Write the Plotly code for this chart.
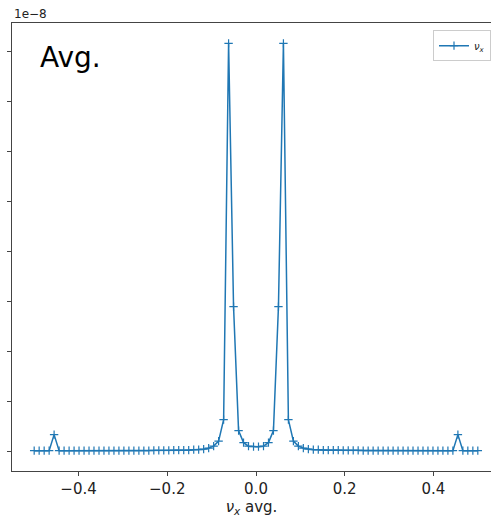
import plotly.graph_objects as go

# Frequency grid (avg. spectrum), and amplitude in units of 1e-8
nu_x = [
    -0.5, -0.4888, -0.4775, -0.4663, -0.4551, -0.4438, -0.4326, -0.4213, -0.4101, -0.3989,
    -0.3876, -0.3764, -0.3652, -0.3539, -0.3427, -0.3315, -0.3202, -0.3090, -0.2978, -0.2865,
    -0.2753, -0.2640, -0.2528, -0.2416, -0.2303, -0.2191, -0.2079, -0.1966, -0.1854, -0.1742,
    -0.1629, -0.1517, -0.1404, -0.1292, -0.1180, -0.1067, -0.0955, -0.0843, -0.0730, -0.0618,
    -0.0506, -0.0393, -0.0281, -0.0169, -0.0056,
    0.0056, 0.0169, 0.0281, 0.0393, 0.0506,
    0.0618, 0.0730, 0.0843, 0.0955, 0.1067, 0.1180, 0.1292, 0.1404, 0.1517, 0.1629,
    0.1742, 0.1854, 0.1966, 0.2079, 0.2191, 0.2303, 0.2416, 0.2528, 0.2640, 0.2753,
    0.2865, 0.2978, 0.3090, 0.3202, 0.3315, 0.3427, 0.3539, 0.3652, 0.3764, 0.3876,
    0.3989, 0.4101, 0.4213, 0.4326, 0.4438, 0.4551, 0.4663, 0.4775, 0.4888, 0.5,
]
amp_e8 = [
    0.01, 0.01, 0.01, 0.01, 0.33, 0.01, 0.01, 0.01, 0.01, 0.01,
    0.01, 0.01, 0.01, 0.01, 0.01, 0.01, 0.01, 0.01, 0.01, 0.01,
    0.01, 0.01, 0.01, 0.01, 0.015, 0.015, 0.015, 0.015, 0.02, 0.02,
    0.02, 0.02, 0.03, 0.03, 0.04, 0.06, 0.10, 0.20, 0.63, 8.16,
    2.89, 0.41, 0.17, 0.10, 0.09,
    0.09, 0.10, 0.17, 0.41, 2.89,
    8.16, 0.63, 0.20, 0.10, 0.06, 0.04, 0.03, 0.03, 0.02, 0.02,
    0.02, 0.02, 0.015, 0.015, 0.015, 0.015, 0.01, 0.01, 0.01, 0.01,
    0.01, 0.01, 0.01, 0.01, 0.01, 0.01, 0.01, 0.01, 0.01, 0.01,
    0.01, 0.01, 0.01, 0.01, 0.01, 0.33, 0.01, 0.01, 0.01, 0.01,
]
x_ticks = [-0.4, -0.2, 0.0, 0.2, 0.4]
y_ticks = [0, 1, 2, 3, 4, 5, 6, 7, 8]

blue = "#1f77b4"
axis_col = "#444444"

fig = go.Figure()
fig.add_trace(go.Scatter(
    x=nu_x, y=amp_e8, mode="lines+markers", name="<i>ν<sub>x</sub></i>",
    line=dict(color=blue, width=1.5),
    marker=dict(symbol="cross-thin", size=6, line=dict(color=blue, width=1.2)),
))

fig.update_layout(
    width=491, height=520,
    margin=dict(l=12, r=0, t=23, b=49, autoexpand=False),
    paper_bgcolor="white", plot_bgcolor="white",
    font=dict(family="DejaVu Sans", size=15, color="#222"),
    showlegend=True,
    legend=dict(
        x=1.0, y=0.984, xanchor="right", yanchor="top",
        bordercolor="#cccccc", borderwidth=1, bgcolor="white",
        font=dict(size=10), itemwidth=30,
    ),
    xaxis=dict(
        range=[-0.55, 0.5297], tickvals=x_ticks, tickformat=".1f",
        showgrid=False, zeroline=False, automargin=False,
        showline=True, linecolor=axis_col, linewidth=1, mirror=True,
        ticks="outside", ticklen=4, tickcolor=axis_col,
        title=dict(text="<i>ν<sub>x</sub></i> avg.", standoff=2, font=dict(size=15)),
    ),
    yaxis=dict(
        range=[-0.3975, 8.5675], tickvals=y_ticks, showticklabels=False,
        showgrid=False, zeroline=False, automargin=False,
        showline=True, linecolor=axis_col, linewidth=1,
        ticks="outside", ticklen=4, tickcolor=axis_col,
    ),
    annotations=[
        dict(text="1e−8", xref="paper", yref="paper", x=0, y=1.0,
             xanchor="left", yanchor="bottom", showarrow=False,
             font=dict(size=12, color="#222")),
        dict(text="Avg.", xref="paper", yref="paper", x=0.055, y=0.965,
             xanchor="left", yanchor="top", showarrow=False,
             font=dict(size=28, color="black")),
    ],
)

# drop the default page margin so the figure sits at the window's corner
fig.write_html("out.html", config={"displayModeBar": False},
               post_script="document.body.style.margin='0';")
